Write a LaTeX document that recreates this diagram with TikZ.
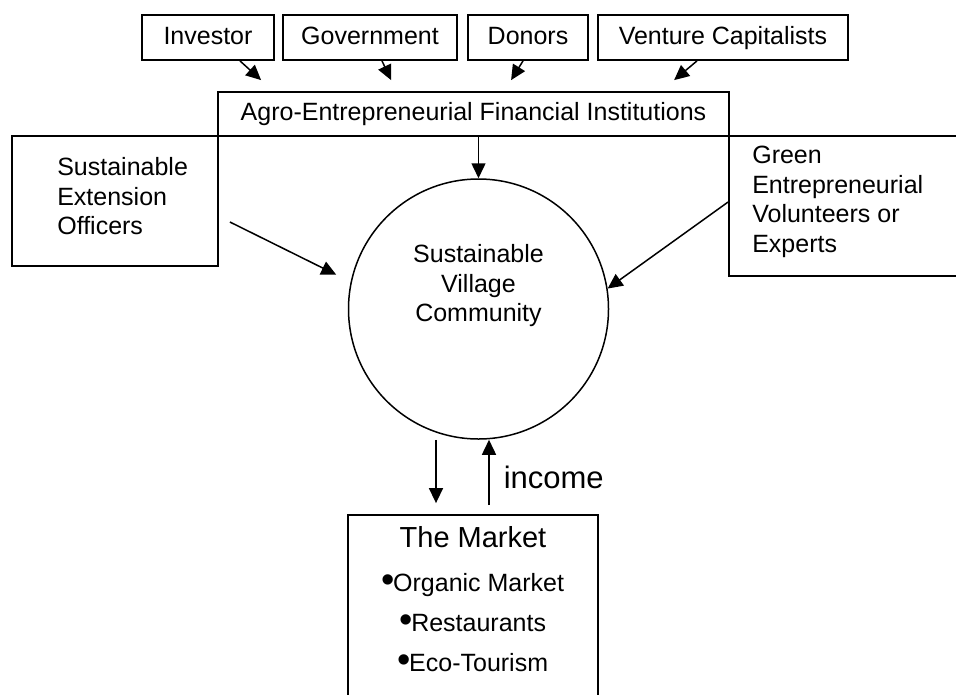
\documentclass[tikz,border=0pt]{standalone}
\usepackage{fontspec}
\setmainfont{Liberation Sans}
\usetikzlibrary{arrows.meta,calc}

\newcommand{\dotitem}{{\fontsize{38}{38}\selectfont\raisebox{-1pt}{\textbullet}}\kern-2pt}

\begin{document}
\begin{tikzpicture}[x=1pt, y=-1pt,
    box/.style={draw, rectangle, inner sep=0pt, line width=1.8pt, text height=18pt, text depth=5pt, font=\fontsize{25}{29.5}\selectfont},
    txt/.style={inner sep=0pt, align=left, font=\fontsize{25}{29.5}\selectfont},
    arr/.style={-{Triangle[length=15pt, width=14pt]}, line width=1.5pt}]
\clip (0,0) rectangle (956,694);

\node[box, minimum width=132, minimum height=45] (investor) at (208,37.5) {Investor};
\node[box, minimum width=174, minimum height=45] (government) at (370,37.5) {Government};
\node[box, minimum width=120, minimum height=45] (donors) at (528,37.5) {Donors};
\node[box, minimum width=250, minimum height=45] (venture) at (723,37.5) {Venture Capitalists};
\node[box, minimum width=511, minimum height=44] (agro) at (473.5,114) {Agro-Entrepreneurial Financial Institutions};

\node[box, minimum width=206, minimum height=130] (officers) at (115,201) {};
\node[txt, anchor=west] (officerstext) at ($(officers.west)+(46,-4.5)$) {Sustainable\\Extension\\Officers};
\node[box, minimum width=271, minimum height=140] (volunteers) at (864.5,206) {};
\node[txt, anchor=west] (volunteerstext) at ($(volunteers.west)+(24,-4)$) {Green\\Entrepreneurial\\Volunteers or\\Experts};

\node[circle, draw, line width=1.5pt, minimum size=260, inner sep=0pt] (village) at (478.5,309) {};
\node[txt, align=center] (villagetext) at ($(village)+(0,-23)$) {Sustainable\\Village\\Community};

\node[box, minimum width=250, minimum height=200] (market) at (473,615) {};
\node[inner sep=0pt, anchor=north, align=center, font=\fontsize{25}{40}\selectfont] (markettext)
    at ($(market.north)+(0,12)$) {{\fontsize{29}{40}\selectfont The Market}\\[4pt]
    \dotitem Organic Market\\ \dotitem Restaurants\\ \dotitem Eco-Tourism};

\foreach \src/\a/\b in {investor/32/44, government/12/174, donors/-5/294, venture/-26/457}
    \draw[arr] ($(\src.south)+(\a,0)$) -- ($(agro.north west)+(\b,-11)$);

\draw[arr] (agro.south -| village.north) -- (village.north);
\draw[arr, shorten >=16pt] ($(officers.east)+(11,21)$) -- (village.168.5);
\draw[arr] ($(volunteers.west)+(0,-4)$) -- (village.9.6);

\coordinate (sellx) at (436,0);
\coordinate (incomex) at (489,0);
\draw[arr, shorten >=11pt] (village.south -| sellx) -- (market.north -| sellx);
\draw[arr, shorten <=9pt] (market.north -| incomex) -- (village.south -| incomex)
    node[midway, anchor=west, xshift=14pt, inner sep=0pt, font=\fontsize{31}{31}\selectfont] (incometext) {income};
\end{tikzpicture}
\end{document}
